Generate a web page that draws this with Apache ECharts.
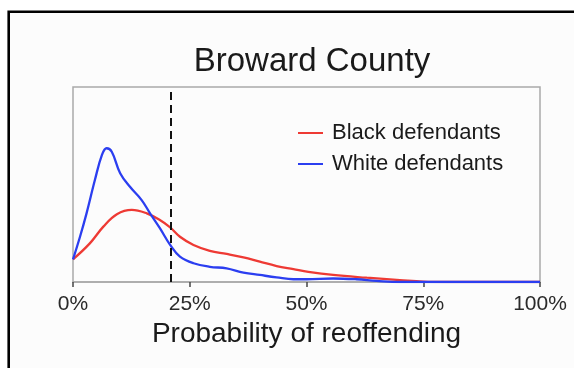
<!DOCTYPE html>
<html>
<head>
<meta charset="utf-8">
<script src="https://cdn.jsdelivr.net/npm/echarts@6/dist/echarts.min.js"></script>
<style>
  html, body { margin: 0; padding: 0; background: #ffffff; }
  #chart { width: 574px; height: 368px; }
</style>
</head>
<body>
<div id="chart"></div>
<script>
// Density of predicted reoffending probability (x in %, y = density)
const blackX = [0, 3.6, 6.5, 9.4, 12.6, 15.8, 18.6, 20.8, 22.9, 25.8, 29.3, 32.9, 36.5, 40.0, 43.6, 47.2, 50.4, 55.7, 62.9, 70.0, 75.0, 80, 90, 100];
const blackY = [0.58, 0.99, 1.42, 1.74, 1.85, 1.76, 1.59, 1.40, 1.16, 0.95, 0.80, 0.72, 0.63, 0.52, 0.41, 0.33, 0.26, 0.18, 0.11, 0.05, 0.01, 0, 0, 0];

const whiteX = [0, 1.5, 2.9, 4.7, 6.2, 7.2, 8.3, 10.1, 12.2, 14.7, 16.5, 18.6, 20.8, 22.9, 25.8, 29.3, 32.9, 36.5, 40.0, 43.6, 47.2, 50.0, 55.7, 60.7, 65.0, 70, 80, 90, 100];
const whiteY = [0.58, 1.16, 1.76, 2.62, 3.26, 3.43, 3.34, 2.79, 2.44, 2.10, 1.76, 1.38, 0.95, 0.65, 0.48, 0.39, 0.35, 0.24, 0.18, 0.12, 0.07, 0.07, 0.09, 0.07, 0.03, 0, 0, 0, 0];

const xTicks = [0, 25, 50, 75, 100];
const cutoff = 21;
const seriesNames = ['Black defendants', 'White defendants'];

const pairs = (xs, ys) => xs.map((x, i) => [x, ys[i]]);

const chart = echarts.init(document.getElementById('chart'), null, { renderer: 'canvas' });
const font = 'Liberation Sans, Arial, Helvetica, sans-serif';

chart.setOption({
  backgroundColor: '#fcfcfc',
  animation: false,
  title: {
    text: 'Broward County',
    left: 307,
    top: 40,
    textAlign: 'center',
    textStyle: { fontFamily: font, fontSize: 33, fontWeight: 'normal', color: '#1a1a1a' }
  },
  legend: {
    orient: 'vertical',
    left: 298,
    top: 122,
    padding: 0,
    itemGap: 9,
    itemWidth: 25,
    itemHeight: 2,
    icon: 'rect',
    textStyle: { fontFamily: font, fontSize: 22, color: '#1a1a1a', padding: [0, 0, 0, 4] },
    data: seriesNames
  },
  grid: {
    left: 73, right: 34, top: 87, bottom: 86,
    show: true,
    borderColor: '#a9a9a9',
    borderWidth: 1.5,
    backgroundColor: 'transparent'
  },
  xAxis: {
    type: 'value',
    min: xTicks[0],
    max: xTicks[xTicks.length - 1],
    interval: 25,
    name: 'Probability of reoffending',
    nameLocation: 'middle',
    nameGap: 36,
    nameTextStyle: { fontFamily: font, fontSize: 28, color: '#1a1a1a' },
    axisLine: { show: true, lineStyle: { color: '#a9a9a9', width: 1.5 } },
    axisTick: { show: true, length: 5, lineStyle: { color: '#444', width: 1.5 } },
    axisLabel: {
      margin: 12,
      fontFamily: font, fontSize: 21, color: '#2a2a2a',
      formatter: '{value}%'
    },
    splitLine: { show: false }
  },
  yAxis: {
    type: 'value',
    min: 0,
    max: 5,
    axisLine: { show: false },
    axisTick: { show: false },
    axisLabel: { show: false },
    splitLine: { show: false }
  },
  series: [
    {
      name: seriesNames[0],
      type: 'line',
      data: pairs(blackX, blackY),
      smooth: 0.4,
      symbol: 'none',
      lineStyle: { color: '#ee3a34', width: 2.3 },
      itemStyle: { color: '#ee3a34' },
      markLine: {
        silent: true,
        symbol: 'none',
        label: { show: false },
        lineStyle: { color: '#111', width: 2, type: [8, 5] },
        data: [{ xAxis: cutoff }]
      }
    },
    {
      name: seriesNames[1],
      type: 'line',
      data: pairs(whiteX, whiteY),
      smooth: 0.4,
      symbol: 'none',
      lineStyle: { color: '#2b3ef0', width: 2.3 },
      itemStyle: { color: '#2b3ef0' }
    }
  ],
  graphic: [
    {
      type: 'rect',
      shape: { x: 0, y: 0, width: 574, height: 11 },
      style: { fill: '#ffffff' },
      silent: true
    },
    {
      type: 'rect',
      shape: { x: 0, y: 0, width: 8, height: 368 },
      style: { fill: '#ffffff' },
      silent: true
    },
    {
      type: 'polyline',
      shape: { points: [[8.7, 368], [8.7, 11.8], [574, 11.8]] },
      style: { stroke: '#000', lineWidth: 2.6, fill: null },
      silent: true
    }
  ]
});
</script>
</body>
</html>
